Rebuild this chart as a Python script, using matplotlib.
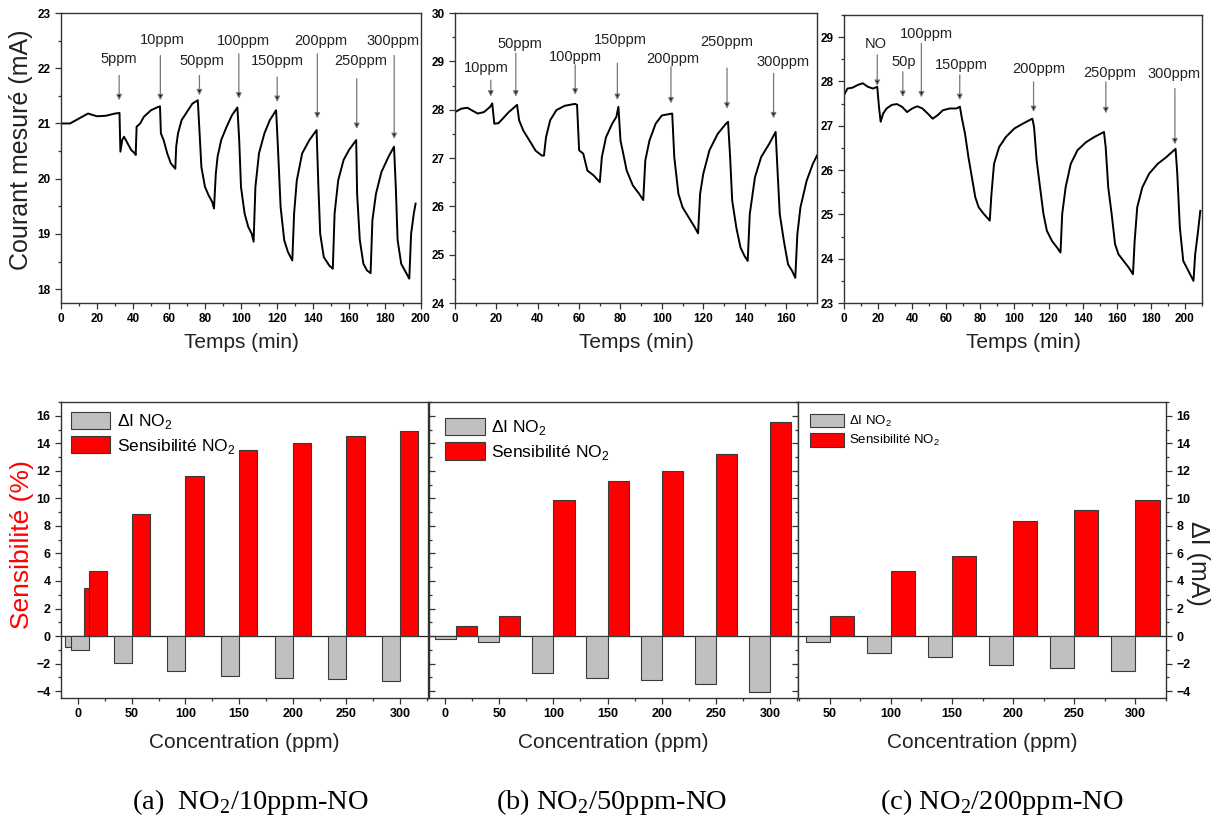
import matplotlib
matplotlib.use('Agg')
import matplotlib.pyplot as plt
from matplotlib.ticker import MultipleLocator
from matplotlib.patches import Patch

plt.rcParams['font.family'] = ['Liberation Sans', 'DejaVu Sans']
plt.rcParams['mathtext.fontset'] = 'custom'
plt.rcParams['mathtext.rm'] = 'Liberation Sans'

# ---------------- data: time responses ----------------
t_a = [0, 5, 10, 15, 20, 25, 30, 32.5, 33, 34, 35, 37, 39, 41, 41.5, 42, 44, 46, 50, 54, 55,
       55.5, 57, 59, 61, 63.5, 64, 65, 67, 70, 73, 76, 77, 78, 80, 82, 84, 85, 86, 87, 89, 92, 95, 98,
       99, 100, 102, 104, 106, 107, 108, 110, 113, 116, 119.5, 120.5, 122, 124, 126, 128.5,
       129.5, 131, 134, 138, 142, 143, 144, 146, 149, 151, 152, 154, 157, 160, 164,
       164.5, 166, 168, 170, 172, 173, 175, 178, 182, 185, 186, 187, 189, 192, 193.5, 194.5, 196, 197]
i_a = [21.0, 21.0, 21.09, 21.18, 21.13, 21.14, 21.18, 21.19, 20.49, 20.7, 20.76, 20.64, 20.52, 20.46, 20.43,
       20.94, 21.0, 21.12, 21.24, 21.3, 21.31, 20.82, 20.7, 20.46, 20.28, 20.18, 20.58, 20.82, 21.06, 21.21,
       21.36, 21.42, 20.82, 20.21, 19.85, 19.70, 19.58, 19.46, 20.09, 20.4, 20.7, 20.94, 21.15, 21.29,
       20.7, 19.85, 19.37, 19.13, 19.0, 18.86, 19.85, 20.46, 20.82, 21.06, 21.24, 20.58, 19.49, 18.89, 18.68, 18.52,
       19.37, 19.97, 20.46, 20.7, 20.88, 19.85, 19.0, 18.58, 18.43, 18.37, 19.37, 19.97, 20.34, 20.52, 20.7,
       19.73, 18.89, 18.46, 18.34, 18.29, 19.25, 19.73, 20.12, 20.4, 20.58, 19.85, 18.89, 18.46, 18.28, 18.19,
       19.0, 19.37, 19.55]

t_b = [0, 3, 6, 8, 11, 14, 17, 18, 19, 21, 23, 26, 29, 30, 31, 33, 36, 39, 42, 43, 44, 46, 49, 53, 58, 59,
       60, 62, 64, 67, 70, 71, 73, 76, 78, 79, 80, 81, 83, 86, 89, 91, 92, 94, 97, 100, 105,
       106, 108, 110, 113, 116, 117.5, 118.5, 120, 123, 127, 131, 132,
       133, 134, 136, 138, 140, 141.5, 142.5, 145, 148, 152, 155,
       156, 157, 159, 161, 163, 164.5, 165.5, 167, 170, 173, 175]
i_b = [27.95, 28.02, 28.04, 27.99, 27.92, 27.95, 28.06, 28.13, 27.71, 27.72, 27.81, 27.95, 28.06, 28.1,
       27.78, 27.57, 27.36, 27.15, 27.05, 27.05, 27.43, 27.78, 27.99, 28.08, 28.12, 28.1,
       27.16, 27.09, 26.74, 26.64, 26.5, 27.02, 27.43, 27.71, 27.85, 28.06, 27.36, 27.16, 26.74, 26.43,
       26.26, 26.13, 26.95, 27.36, 27.71, 27.88, 27.92,
       27.02, 26.26, 25.98, 25.77, 25.56, 25.44, 26.26, 26.67, 27.16, 27.5, 27.71, 27.75,
       27.02, 26.12, 25.56, 25.15, 24.97, 24.87, 25.84, 26.6, 27.02, 27.3, 27.54,
       26.67, 25.84, 25.28, 24.8, 24.66, 24.52, 25.42, 25.98, 26.53, 26.88, 27.05]

t_c = [0, 2, 5, 8, 11, 14, 17, 19.5, 20.5, 21.5, 23, 25, 28, 31, 34, 37, 40, 43, 46, 49, 52, 55, 58, 62, 66, 68,
       69, 71, 73, 75, 77, 79, 82, 85.5, 86.5, 88, 91, 95, 100, 105, 110.5,
       111.5, 113, 115, 117, 119, 122, 125, 127, 128, 130, 133, 137, 142, 147, 152.5,
       153.5, 155, 157, 159, 161, 164, 167, 169.5, 170.5, 172, 175, 179, 184, 189, 194.5,
       195.5, 197, 199, 201, 203, 205, 206, 207.5, 209]
i_c = [27.69, 27.84, 27.86, 27.92, 27.96, 27.88, 27.84, 27.88, 27.43, 27.09, 27.28, 27.39, 27.47, 27.49,
       27.43, 27.31, 27.39, 27.44, 27.39, 27.28, 27.16, 27.24, 27.35, 27.39, 27.39, 27.43,
       27.2, 26.82, 26.29, 25.84, 25.39, 25.16, 25.01, 24.86, 25.46, 26.14, 26.52, 26.75, 26.94, 27.05, 27.16,
       26.97, 26.22, 25.61, 25.01, 24.63, 24.4, 24.25, 24.14, 25.01, 25.61, 26.14, 26.45, 26.63, 26.75, 26.86,
       26.52, 25.61, 25.01, 24.33, 24.1, 23.95, 23.8, 23.65, 24.4, 25.16, 25.61, 25.92, 26.14, 26.29, 26.48,
       25.92, 24.71, 23.95, 23.8, 23.65, 23.5, 24.1, 24.56, 25.08]

# gas injection events (time, label)
inj_a_t = [32.3, 55.2, 76.9, 98.8, 120.1, 142.4, 164.3, 185.1]
inj_a_lab = ['5ppm', '10ppm', '50ppm', '100ppm', '150ppm', '200ppm', '250ppm', '300ppm']
inj_b_t = [17.3, 29.4, 58.1, 78.5, 104.4, 131.5, 154.0]
inj_b_lab = ['10ppm', '50ppm', '100ppm', '150ppm', '200ppm', '250ppm', '300ppm']
inj_c_t = [19.5, 34.5, 45.4, 67.9, 111.2, 153.6, 194.1]
inj_c_lab = ['NO', '50p', '100ppm', '150ppm', '200ppm', '250ppm', '300ppm']

# ---------------- data: bar charts ----------------
conc_a = [5, 10, 50, 100, 150, 200, 250, 300]
dI_a = [-0.77, -1.0, -1.94, -2.54, -2.9, -3.03, -3.15, -3.24]
sens_a = [3.5, 4.7, 8.84, 11.65, 13.5, 14.0, 14.5, 14.9]

conc_b = [10, 50, 100, 150, 200, 250, 300]
dI_b = [-0.19, -0.41, -2.69, -3.05, -3.2, -3.49, -4.09]
sens_b = [0.75, 1.48, 9.85, 11.23, 11.99, 13.24, 15.57]

conc_c = [50, 100, 150, 200, 250, 300]
dI_c = [-0.41, -1.21, -1.5, -2.13, -2.32, -2.51]
sens_c = [1.45, 4.69, 5.82, 8.36, 9.18, 9.88]

captions = ['(a)  NO$_\\mathregular{2}$/10ppm-NO', '(b) NO$_\\mathregular{2}$/50ppm-NO',
            '(c) NO$_\\mathregular{2}$/200ppm-NO']

# ---------------- layout ----------------
W, H = 1219, 818
fig = plt.figure(figsize=(W / 100, H / 100), dpi=100)


def ax_px(x1, y1, x2, y2):
    return fig.add_axes([x1 / W, 1 - y2 / H, (x2 - x1) / W, (y2 - y1) / H])


SPC = '#333333'


def style_axes(ax):
    for s in ax.spines.values():
        s.set_color(SPC)
        s.set_linewidth(1.0)
    ax.tick_params(which='both', direction='out', color=SPC, width=0.9)
    ax.tick_params(which='major', length=4, labelsize=8.5)
    ax.tick_params(which='minor', length=2)
    for lab in ax.get_xticklabels() + ax.get_yticklabels():
        lab.set_fontweight('bold')


# arrow/label layout (tail y, tip y, label x, label y) per panel
arr_a = [(21.87, 21.42, 32.3, 22.17), (22.23, 21.42, 56.5, 22.52), (21.87, 21.51, 78.4, 22.13),
         (22.26, 21.45, 101.6, 22.5), (21.84, 21.39, 120.1, 22.14), (22.26, 21.09, 144.3, 22.49),
         (21.81, 20.9, 166.6, 22.13), (22.23, 20.72, 184.2, 22.49)]
arr_b = [(28.61, 28.27, 15.0, 28.86), (29.17, 28.27, 31.5, 29.36), (28.93, 28.31, 58.1, 29.08),
         (28.96, 28.2, 79.8, 29.45), (28.89, 28.13, 105.2, 29.05), (28.86, 28.02, 131.5, 29.4),
         (28.75, 27.82, 158.4, 28.98)]
arr_c = [(28.6, 27.9, 18.5, 28.84), (28.22, 27.65, 35.3, 28.45), (28.86, 27.64, 48.1, 29.08),
         (28.15, 27.58, 68.8, 28.37), (27.99, 27.31, 114.2, 28.27), (27.99, 27.28, 155.6, 28.2),
         (27.84, 26.58, 193.7, 28.17)]

top_specs = [
    ((61, 13, 421, 303), t_a, i_a, (0, 200), (17.75, 23), inj_a_t, inj_a_lab, arr_a),
    ((455, 13, 817, 303), t_b, i_b, (0, 175), (24, 30), inj_b_t, inj_b_lab, arr_b),
    ((844, 15, 1202, 303), t_c, i_c, (0, 210), (23, 29.5), inj_c_t, inj_c_lab, arr_c),
]

for box, t, cur, xl, yl, it, ilab, arr in top_specs:
    ax = ax_px(*box)
    ax.plot(t, cur, color='black', lw=1.4)
    ax.set_xlim(*xl)
    ax.set_ylim(*yl)
    ax.xaxis.set_major_locator(MultipleLocator(20))
    ax.xaxis.set_minor_locator(MultipleLocator(10))
    ax.yaxis.set_major_locator(MultipleLocator(1))
    ax.yaxis.set_minor_locator(MultipleLocator(0.5))
    style_axes(ax)
    for tt, lab, (tail, tip, lx, ly) in zip(it, ilab, arr):
        ax.annotate('', xy=(tt, tip), xytext=(tt, tail),
                    arrowprops=dict(arrowstyle='-|>', fc='black', ec='#777777', lw=0.9,
                                    mutation_scale=8, shrinkA=0, shrinkB=0))
        ax.text(lx, ly, lab, ha='center', va='center', fontsize=10.5, color='#222222')
    cx = (box[0] + box[2]) / 2
    fig.text(cx / W, 1 - 343 / H, 'Temps (min)', ha='center', va='center', fontsize=15, color='#222222')

fig.text(21 / W, 1 - 150 / H, 'Courant mesuré (mA)', rotation=90, ha='center', va='center',
         fontsize=18, color='#222222')

# ---------------- bottom bar charts ----------------
GRAY = '#c0c0c0'
RED = '#ff0000'
EDGE = '#3a3a3a'
bot_specs = [
    ((61, 402, 428, 698), conc_a, dI_a, sens_a, 17.0, (-16, 326), 0, 'left', 12.5, (2.3, 1.15)),
    ((429, 402, 798, 698), conc_b, dI_b, sens_b, 19.5, (-15, 326), 0, 'none', 12.5, (2.3, 1.15)),
    ((798, 402, 1166, 698), conc_c, dI_c, sens_c, 19.7, (24, 325), 50, 'right', 9.5, (2.6, 1.2)),
]
for k, (box, conc, dI, sens, w, xl, x0, yside, lfs, (hl, hh)) in enumerate(bot_specs):
    ax = ax_px(*box)
    ax.axhline(0, color='#222222', lw=0.9, zorder=1)
    ax.bar(conc, dI, width=-w, align='edge', color=GRAY, edgecolor=EDGE, lw=0.8, zorder=2)
    ax.bar(conc, sens, width=w, align='edge', color=RED, edgecolor=EDGE, lw=0.8, zorder=2)
    ax.set_xlim(*xl)
    ax.set_ylim(-4.5, 17)
    ax.set_xticks(list(range(x0, 301, 50)))
    ax.xaxis.set_minor_locator(MultipleLocator(25))
    ax.yaxis.set_major_locator(MultipleLocator(2))
    ax.yaxis.set_minor_locator(MultipleLocator(1))
    style_axes(ax)
    ax.tick_params(axis='x', labelsize=9)
    ax.tick_params(axis='y', labelsize=9)
    if yside == 'left':
        ax.tick_params(axis='y', which='both', left=True, right=False, labelleft=True)
    elif yside == 'right':
        ax.tick_params(axis='y', which='both', left=False, right=True, labelleft=False, labelright=True)
    else:
        ax.tick_params(axis='y', which='both', left=True, right=True, labelleft=False, direction='in')
    for lab in ax.get_yticklabels() + ax.get_xticklabels():
        lab.set_fontweight('bold')
    handles = [Patch(fc=GRAY, ec=EDGE, lw=0.8), Patch(fc=RED, ec=EDGE, lw=0.8)]
    bpad = 0.35 if k == 0 else 0.7
    ax.legend(handles, ['ΔI NO$_\\mathregular{2}$', 'Sensibilité NO$_\\mathregular{2}$'],
              loc='upper left', frameon=False, fontsize=lfs, handlelength=hl, handleheight=hh,
              handletextpad=0.35, labelspacing=0.3, borderaxespad=bpad, borderpad=0.2)
    cx = (box[0] + box[2]) / 2
    fig.text(cx / W, 1 - 742 / H, 'Concentration (ppm)', ha='center', va='center', fontsize=15,
             color='#222222')

fig.text(22 / W, 1 - 545 / H, 'Sensibilité (%)', rotation=90, ha='center', va='center',
         fontsize=19, color='red')
fig.text(1198 / W, 1 - 563 / H, 'ΔI (mA)', rotation=-90, ha='center', va='center',
         fontsize=18, color='#222222')

for cx, cap in zip([250, 612, 1002], captions):
    fig.text(cx / W, 1 - 802 / H, cap, ha='center', va='center', fontsize=20.5,
             family='Liberation Serif', color='black')

fig.savefig('out.png', dpi=100)
